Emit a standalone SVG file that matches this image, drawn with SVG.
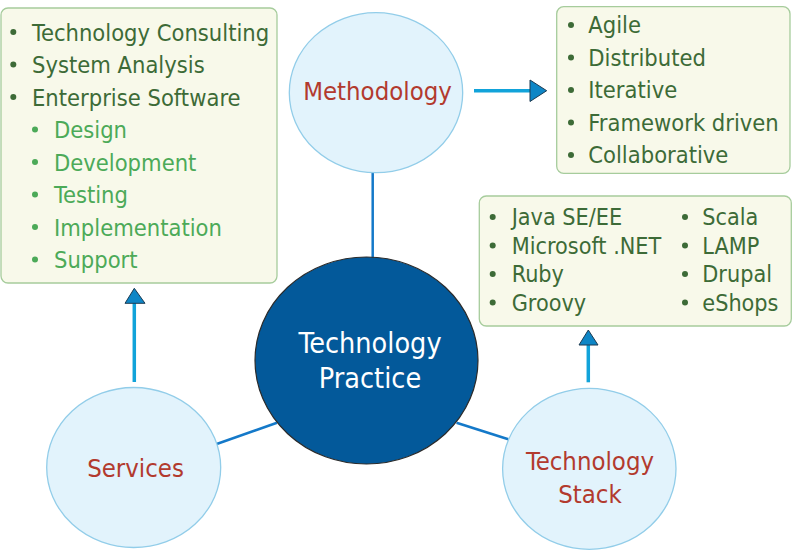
<svg xmlns="http://www.w3.org/2000/svg" width="792" height="552" viewBox="0 0 792 552">
<defs>
<style>
text{font-family:"DejaVu Sans Condensed","DejaVu Sans",sans-serif;}
.box{fill:#f8f9ea;stroke:#a6cc9c;stroke-width:1.3;}
.sat{fill:#e2f3fc;stroke:#92cde9;stroke-width:1.3;}
.lbl{fill:#b23a2e;font-size:25.5px;text-anchor:middle;}
.main{fill:#3d6b37;font-size:23.5px;}
.sub{fill:#4caa58;font-size:23.5px;}
.stk{fill:#3d6b37;font-size:23.2px;}
.link{stroke:#1479c9;stroke-width:2.5;fill:none;}
.arr{stroke:#11a3da;stroke-width:3.5;fill:none;}
.head{fill:#0e86c6;stroke:#1d3b52;stroke-width:1;}
</style>
</defs>
<g id="connectors">
<line class="link" x1="372.7" y1="172.7" x2="372.7" y2="258"/>
<line class="link" x1="216.7" y1="444" x2="277" y2="422.7"/>
<line class="link" x1="456.5" y1="422.7" x2="508.3" y2="439.3"/>
<line class="arr" x1="474" y1="90.7" x2="531" y2="90.7"/>
<polygon class="head" points="530,80 546.7,90.7 530,101.5"/>
<line class="arr" x1="134.3" y1="382" x2="134.3" y2="302"/>
<polygon class="head" points="125,303.3 134.3,288.3 145,303.3"/>
<line class="arr" x1="588.3" y1="382.3" x2="588.3" y2="344"/>
<polygon class="head" points="579,345 588.3,330 598,345"/>
</g>
<g id="services-list">
<rect class="box" x="1" y="8" width="276" height="275" rx="7"/>
<g class="main">
<circle cx="13.3" cy="32" r="3" fill="#3d6b37"/><text x="32" y="40.5">Technology Consulting</text>
<circle cx="13.3" cy="64.5" r="3" fill="#3d6b37"/><text x="32" y="73">System Analysis</text>
<circle cx="13.3" cy="97" r="3" fill="#3d6b37"/><text x="32" y="105.5">Enterprise Software</text>
</g>
<g class="sub">
<circle cx="35" cy="129.5" r="3" fill="#4caa58"/><text x="54" y="138">Design</text>
<circle cx="35" cy="162" r="3" fill="#4caa58"/><text x="54" y="170.5">Development</text>
<circle cx="35" cy="194.5" r="3" fill="#4caa58"/><text x="54" y="203">Testing</text>
<circle cx="35" cy="227" r="3" fill="#4caa58"/><text x="54" y="235.5">Implementation</text>
<circle cx="35" cy="259.5" r="3" fill="#4caa58"/><text x="54" y="268">Support</text>
</g>
</g>
<g id="methodology-list">
<rect class="box" x="556.7" y="6.7" width="233.3" height="166.6" rx="7"/>
<g class="main">
<circle cx="571" cy="25" r="3" fill="#3d6b37"/><text x="588.3" y="33.3">Agile</text>
<circle cx="571" cy="57.5" r="3" fill="#3d6b37"/><text x="588.3" y="65.8">Distributed</text>
<circle cx="571" cy="90" r="3" fill="#3d6b37"/><text x="588.3" y="98.3">Iterative</text>
<circle cx="571" cy="122.5" r="3" fill="#3d6b37"/><text x="588.3" y="130.8">Framework driven</text>
<circle cx="571" cy="155" r="3" fill="#3d6b37"/><text x="588.3" y="163.3">Collaborative</text>
</g>
</g>
<g id="stack-list">
<rect class="box" x="479.3" y="196" width="312" height="130" rx="7"/>
<g class="stk">
<circle cx="492.7" cy="217" r="3" fill="#3d6b37"/><text x="511.7" y="225">Java SE/EE</text>
<circle cx="492.7" cy="245.5" r="3" fill="#3d6b37"/><text x="511.7" y="253.5">Microsoft .NET</text>
<circle cx="492.7" cy="274" r="3" fill="#3d6b37"/><text x="511.7" y="282">Ruby</text>
<circle cx="492.7" cy="302.5" r="3" fill="#3d6b37"/><text x="511.7" y="310.5">Groovy</text>
<circle cx="685" cy="217" r="3" fill="#3d6b37"/><text x="702.3" y="225">Scala</text>
<circle cx="685" cy="245.5" r="3" fill="#3d6b37"/><text x="702.3" y="253.5">LAMP</text>
<circle cx="685" cy="274" r="3" fill="#3d6b37"/><text x="702.3" y="282">Drupal</text>
<circle cx="685" cy="302.5" r="3" fill="#3d6b37"/><text x="702.3" y="310.5">eShops</text>
</g>
</g>
<g id="methodology">
<ellipse class="sat" cx="376" cy="92.7" rx="86.7" ry="80"/>
<text class="lbl" x="377.5" y="99.5">Methodology</text>
</g>
<g id="services">
<ellipse class="sat" cx="133.7" cy="467.5" rx="87" ry="80"/>
<text class="lbl" x="135.5" y="476.7">Services</text>
</g>
<g id="technology-stack">
<ellipse class="sat" cx="589.3" cy="468.8" rx="86.7" ry="80.5"/>
<text class="lbl" x="590" y="470">Technology</text>
<text class="lbl" x="590" y="502.7">Stack</text>
</g>
<g id="technology-practice">
<ellipse cx="366.5" cy="360.5" rx="111.5" ry="103.5" fill="#03599a" stroke="#2b2b2b" stroke-width="1.2"/>
<text x="370" y="353.3" fill="#ffffff" font-size="28.5" text-anchor="middle">Technology</text>
<text x="370" y="388.3" fill="#ffffff" font-size="28.5" text-anchor="middle">Practice</text>
</g>
</svg>
